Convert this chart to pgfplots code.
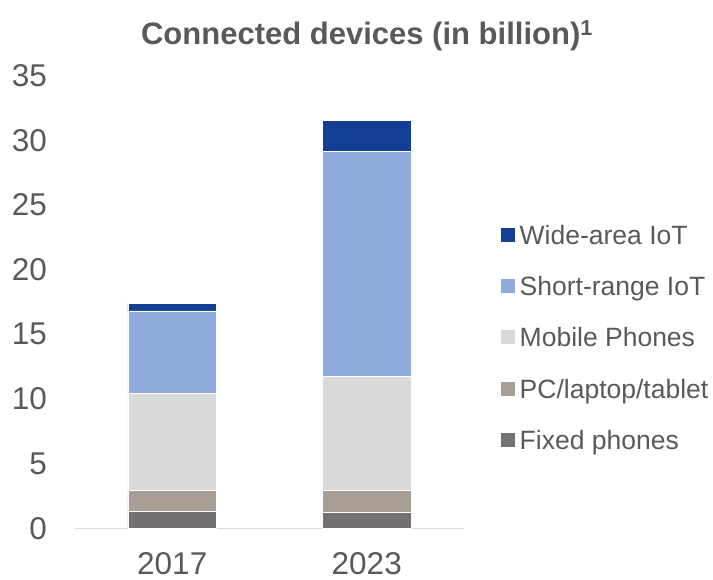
\documentclass[border=0pt]{standalone}
\usepackage{pgfplots}
\pgfplotsset{compat=1.18}
\usepackage{fontspec}
\setmainfont{Liberation Sans}
\definecolor{wide}{RGB}{19,64,148}
\definecolor{short}{RGB}{143,170,220}
\definecolor{mobile}{RGB}{217,217,217}
\definecolor{pc}{RGB}{168,158,148}
\definecolor{fixed}{RGB}{118,113,113}
\definecolor{txt}{RGB}{89,89,89}
\definecolor{axl}{RGB}{217,217,217}
\begin{document}
\begin{tikzpicture}
\useasboundingbox (-75bp,-51.7bp) rectangle (638bp,528.3bp);
\begin{axis}[
  scale only axis,
  width=389bp, height=452.8bp,
  xmin=-0.5, xmax=1.5, ymin=0, ymax=35,
  ybar stacked, bar width=88.6bp,
  xtick={0,1}, xticklabels={2017,2023},
  ytick={0,5,10,15,20,25,30,35},
  major tick length=0pt,
  axis lines*=left,
  y axis line style={draw=none},
  x axis line style={draw=axl, line width=1.5bp, -},
  tick label style={text=txt},
  yticklabel style={font=\fontsize{31.5bp}{36bp}\selectfont, anchor=east, inner sep=0pt, xshift=-28bp},
  xticklabel style={font=\fontsize{31.5bp}{36bp}\selectfont, anchor=north, inner sep=0pt, yshift=-24bp},
  /pgf/number format/assume math mode=true,
  reverse legend,
  legend cell align=left,
  legend image code/.code={\path[#1,draw=none] (0bp,-7bp) rectangle (14bp,7bp); \path[draw=none,fill=none] (0,0) -- (19bp,0);},
  legend style={draw=none, fill=none, at={(1.0944,0.7043)}, anchor=north west,
    inner sep=0pt, outer sep=0pt, row sep=0pt, column sep=0pt,
    font=\fontsize{26.5bp}{30bp}\selectfont, text=txt,
    nodes={inner sep=0pt, outer sep=0pt, text height=35.1bp, text depth=16.1bp}},
  every axis plot/.append style={draw=white, line width=0.8bp},
]
\addplot[fill=fixed] coordinates {(0,1.3) (1,1.2)};
\addplot[fill=pc] coordinates {(0,1.6) (1,1.7)};
\addplot[fill=mobile] coordinates {(0,7.5) (1,8.85)};
\addplot[fill=short] coordinates {(0,6.4) (1,17.4)};
\addplot[fill=wide] coordinates {(0,0.6) (1,2.4)};
\legend{Fixed phones, PC/laptop/tablet, Mobile Phones, Short-range IoT, Wide-area IoT}
\end{axis}
\node[anchor=base, text=txt, font=\fontsize{31bp}{36bp}\selectfont\bfseries, inner sep=0pt] at (292bp,483.3bp) {Connected devices (in billion)\textsuperscript{1}};
\end{tikzpicture}
\end{document}
